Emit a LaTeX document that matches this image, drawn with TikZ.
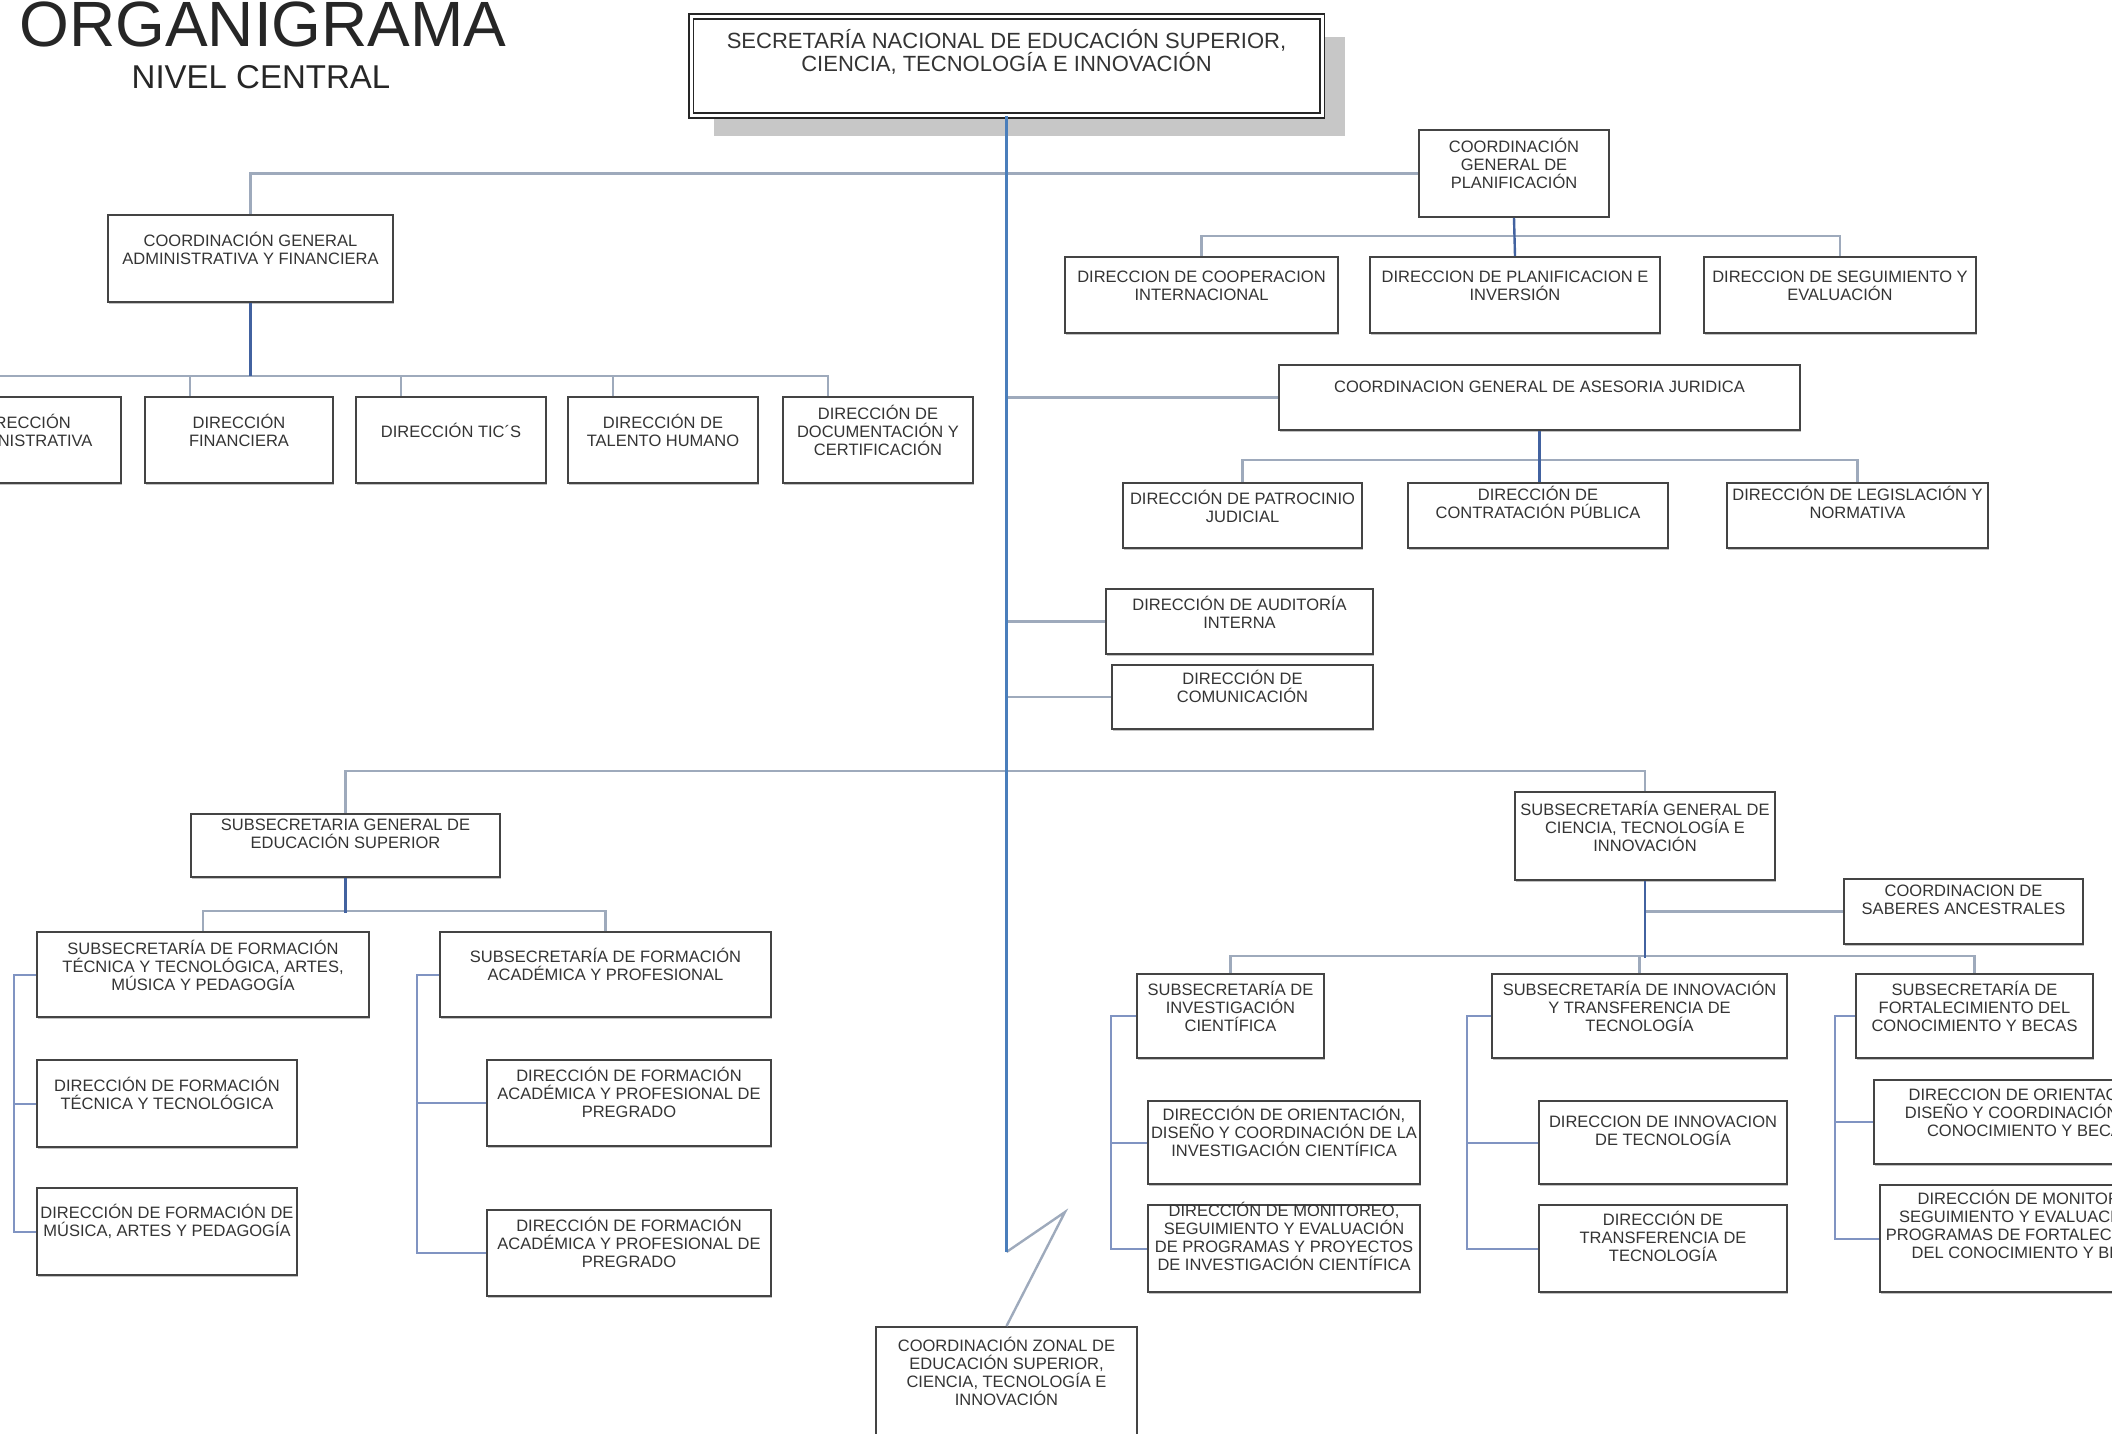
\documentclass[tikz,border=0pt]{standalone}
\usepackage{fontspec}
\setmainfont{Liberation Sans}
\usetikzlibrary{shadows}

\definecolor{azultronco}{RGB}{74,126,187}
\definecolor{azulbajada}{RGB}{66,98,160}
\definecolor{grisrama}{RGB}{158,170,188}
\definecolor{azulriel}{RGB}{128,148,194}
\definecolor{bordecaja}{RGB}{68,68,68}
\definecolor{textocaja}{RGB}{52,52,52}

\newcommand\letracaja{\fontsize{16.5}{18}\selectfont}
\newcommand\letragrande{\fontsize{22}{23}\selectfont}

\begin{document}
\begin{tikzpicture}[x=1pt,y=-1pt,
  caja/.style={draw=bordecaja, line width=2pt, fill=white, inner sep=0pt,
    drop shadow={shadow xshift=1pt, shadow yshift=-1.5pt, fill=black!40, opacity=.6}},
  rotulo/.style={font=\letracaja, align=center, text=textocaja, inner sep=0pt},
  troncal/.style={draw=azultronco, line width=3pt},
  bajada/.style={draw=azulbajada, line width=2.4pt},
  rama/.style={draw=grisrama, line width=2.4pt},
  riel/.style={draw=azulriel, line width=2pt}]
%%%%%%%%%%%%%%%%%%%%%%%%%%%%%%%%%%%%%%%%%%% HELP LINES
%\draw[help lines] (0,0) grid[step=100] (2112,1434);
\useasboundingbox (0,0) rectangle (2112,1434);
\clip (0,0) rectangle (2112,1434);

%%%%%%%%%%%%%%%%%%%%%%%%%%%%%%%%%%%%%%%%%%% title
\node[font=\fontsize{64}{70}\selectfont, text=black!85, anchor=base, inner sep=0pt] (titulo) at (263,47) {ORGANIGRAMA};
\node[font=\fontsize{33}{36}\selectfont, text=black!85, anchor=base, inner sep=0pt] (nivel) at (261,89) {NIVEL CENTRAL};

%%%%%%%%%%%%%%%%%%%%%%%%%%%%%%%%%%%%%%%%%%% secretaria
\node[draw=black!85, line width=1.8pt, double=white, double distance=3pt, fill=white, inner sep=0pt,
  general shadow={fill=black!22, shadow xshift=23pt, shadow yshift=-21pt},
  minimum width=631pt, minimum height=99pt] (sec) at (1006.5,66) {};
\node[rotulo, font=\letragrande] (sec-t) at (1006.5,51.5) {SECRETARÍA NACIONAL DE EDUCACIÓN SUPERIOR,\\CIENCIA, TECNOLOGÍA E INNOVACIÓN};

%%%%% coordinacion administrativa
\node[caja, minimum width=285pt, minimum height=87pt] (cga) at (250.5,258.5) {};
\node[rotulo] (cga-t) at (250.5,248.5) {COORDINACIÓN GENERAL\\ADMINISTRATIVA Y FINANCIERA};

\node[caja, minimum width=193pt, minimum height=86pt] (dadm) at (24.5,440) {};
\node[rotulo] (dadm-t) at (24.5,430) {DIRECCIÓN\\ADMINISTRATIVA};
\node[caja, minimum width=188pt, minimum height=86pt] (dfin) at (239,440) {};
\node[rotulo] (dfin-t) at (239,430) {DIRECCIÓN\\FINANCIERA};
\node[caja, minimum width=190pt, minimum height=86pt] (dtic) at (451,440) {};
\node[rotulo] (dtic-t) at (451,430) {DIRECCIÓN TIC´S};
\node[caja, minimum width=190pt, minimum height=86pt] (dtal) at (663,440) {};
\node[rotulo] (dtal-t) at (663,430) {DIRECCIÓN DE\\TALENTO HUMANO};
\node[caja, minimum width=190pt, minimum height=86pt] (ddoc) at (878,440) {};
\node[rotulo] (ddoc-t) at (878,430) {DIRECCIÓN DE\\DOCUMENTACIÓN Y\\CERTIFICACIÓN};

%%%%% planificacion
\node[caja, minimum width=190pt, minimum height=87pt] (cgp) at (1514,173.5) {};
\node[rotulo] (cgp-t) at (1514,163) {COORDINACIÓN\\GENERAL DE\\PLANIFICACIÓN};
\node[caja, minimum width=273pt, minimum height=76pt] (dcoop) at (1201.5,295) {};
\node[rotulo] (dcoop-t) at (1201.5,286) {DIRECCION DE COOPERACION\\INTERNACIONAL};
\node[caja, minimum width=290pt, minimum height=76pt] (dplan) at (1515,295) {};
\node[rotulo] (dplan-t) at (1515,286) {DIRECCION DE PLANIFICACION E\\INVERSIÓN};
\node[caja, minimum width=272pt, minimum height=76pt] (dseg) at (1840,295) {};
\node[rotulo] (dseg-t) at (1840,286) {DIRECCION DE SEGUIMIENTO Y\\EVALUACIÓN};

%%%%% asesoria juridica
\node[caja, minimum width=521pt, minimum height=65pt] (cgaj) at (1539.5,397.5) {};
\node[rotulo] (cgaj-t) at (1539.5,387) {COORDINACION GENERAL DE ASESORIA JURIDICA};
\node[caja, minimum width=239pt, minimum height=65pt] (dpat) at (1242.5,515.5) {};
\node[rotulo] (dpat-t) at (1242.5,506) {DIRECCIÓN DE PATROCINIO\\JUDICIAL};
\node[caja, minimum width=260pt, minimum height=65pt] (dcont) at (1538,515.5) {};
\node[rotulo] (dcont-t) at (1538,502) {DIRECCIÓN DE\\CONTRATACIÓN PÚBLICA};
\node[caja, minimum width=261pt, minimum height=65pt] (dleg) at (1857.5,515.5) {};
\node[rotulo] (dleg-t) at (1857.5,502) {DIRECCIÓN DE LEGISLACIÓN Y\\NORMATIVA};

%%%%% auditoria y comunicacion
\node[caja, minimum width=267pt, minimum height=65pt] (daud) at (1239.5,621.5) {};
\node[rotulo] (daud-t) at (1239.5,612) {DIRECCIÓN DE AUDITORÍA\\INTERNA};
\node[caja, minimum width=261pt, minimum height=64pt] (dcom) at (1242.5,697) {};
\node[rotulo] (dcom-t) at (1242.5,686) {DIRECCIÓN DE\\COMUNICACIÓN};

%%%%% educacion superior
\node[caja, minimum width=309pt, minimum height=63pt] (sges) at (345.5,845.5) {};
\node[rotulo] (sges-t) at (345.5,834) {SUBSECRETARIA GENERAL DE\\EDUCACIÓN SUPERIOR};
\node[caja, minimum width=332pt, minimum height=85pt] (sftec) at (203,974.5) {};
\node[rotulo] (sftec-t) at (203,965) {SUBSECRETARÍA DE FORMACIÓN\\TÉCNICA Y TECNOLÓGICA, ARTES,\\MÚSICA Y PEDAGOGÍA};
\node[caja, minimum width=331pt, minimum height=85pt] (sfaca) at (605.5,974.5) {};
\node[rotulo] (sfaca-t) at (605.5,964) {SUBSECRETARÍA DE FORMACIÓN\\ACADÉMICA Y PROFESIONAL};
\node[caja, minimum width=260pt, minimum height=87pt] (dftec) at (167,1103.5) {};
\node[rotulo] (dftec-t) at (167,1093) {DIRECCIÓN DE FORMACIÓN\\TÉCNICA Y TECNOLÓGICA};
\node[caja, minimum width=260pt, minimum height=87pt] (dmus) at (167,1231.5) {};
\node[rotulo] (dmus-t) at (167,1221) {DIRECCIÓN DE FORMACIÓN DE\\MÚSICA, ARTES Y PEDAGOGÍA};
\node[caja, minimum width=284pt, minimum height=86pt] (daca1) at (629,1103) {};
\node[rotulo] (daca1-t) at (629,1092) {DIRECCIÓN DE FORMACIÓN\\ACADÉMICA Y PROFESIONAL DE\\PREGRADO};
\node[caja, minimum width=284pt, minimum height=86pt] (daca2) at (629,1253) {};
\node[rotulo] (daca2-t) at (629,1242) {DIRECCIÓN DE FORMACIÓN\\ACADÉMICA Y PROFESIONAL DE\\PREGRADO};

%%%%% ciencia y tecnologia
\node[caja, minimum width=260pt, minimum height=88pt] (sgcti) at (1645,836) {};
\node[rotulo] (sgcti-t) at (1645,826) {SUBSECRETARÍA GENERAL DE\\CIENCIA, TECNOLOGÍA E\\INNOVACIÓN};
\node[caja, minimum width=239pt, minimum height=65pt] (sab) at (1963.5,911.5) {};
\node[rotulo] (sab-t) at (1963.5,900) {COORDINACION DE\\SABERES ANCESTRALES};
\node[caja, minimum width=187pt, minimum height=84pt] (sinv) at (1230.5,1016) {};
\node[rotulo] (sinv-t) at (1230.5,1006) {SUBSECRETARÍA DE\\INVESTIGACIÓN\\CIENTÍFICA};
\node[caja, minimum width=295pt, minimum height=84pt] (sinn) at (1639.5,1016) {};
\node[rotulo] (sinn-t) at (1639.5,1006) {SUBSECRETARÍA DE INNOVACIÓN\\Y TRANSFERENCIA DE\\TECNOLOGÍA};
\node[caja, minimum width=237pt, minimum height=84pt] (sfor) at (1974.5,1016) {};
\node[rotulo] (sfor-t) at (1974.5,1006) {SUBSECRETARÍA DE\\FORTALECIMIENTO DEL\\CONOCIMIENTO Y BECAS};
\node[caja, minimum width=272pt, minimum height=83pt] (dori1) at (1284,1142.5) {};
\node[rotulo] (dori1-t) at (1284,1131) {DIRECCIÓN DE ORIENTACIÓN,\\DISEÑO Y COORDINACIÓN DE LA\\INVESTIGACIÓN CIENTÍFICA};
\node[caja, minimum width=272pt, minimum height=87pt] (dmon1) at (1284,1248.5) {};
\node[rotulo] (dmon1-t) at (1284,1236) {DIRECCIÓN DE MONITOREO,\\SEGUIMIENTO Y EVALUACIÓN\\DE PROGRAMAS Y PROYECTOS\\DE INVESTIGACIÓN CIENTÍFICA};
\node[caja, minimum width=248pt, minimum height=83pt] (dinn) at (1663,1142.5) {};
\node[rotulo] (dinn-t) at (1663,1131) {DIRECCION DE INNOVACION\\DE TECNOLOGÍA};
\node[caja, minimum width=248pt, minimum height=87pt] (dtra) at (1663,1248.5) {};
\node[rotulo] (dtra-t) at (1663,1236) {DIRECCIÓN DE\\TRANSFERENCIA DE\\TECNOLOGÍA};
\node[caja, minimum width=312pt, minimum height=84pt] (dori2) at (2030,1122) {};
\node[rotulo] (dori2-t) at (2030,1111) {DIRECCION DE ORIENTACIÓN,\\DISEÑO Y COORDINACIÓN DEL\\CONOCIMIENTO Y BECAS};
\node[caja, minimum width=306pt, minimum height=107pt] (dmon2) at (2033,1238.5) {};
\node[rotulo] (dmon2-t) at (2033,1224) {DIRECCIÓN DE MONITOREO,\\SEGUIMIENTO Y EVALUACIÓN DE\\PROGRAMAS DE FORTALECIMIENTO\\DEL CONOCIMIENTO Y BECAS};

%%%%% zonal
\node[caja, minimum width=261pt, minimum height=113pt] (zonal) at (1006.5,1383.5) {};
\node[rotulo] (zonal-t) at (1006.5,1371) {COORDINACIÓN ZONAL DE\\EDUCACIÓN SUPERIOR,\\CIENCIA, TECNOLOGÍA E\\INNOVACIÓN};

%%%%%%%%%%%%%%%%%%%%%%%%%%%%%%%%%%%%%%%%%%% connectors
\coordinate (quiebre1) at (1006.5,1252);
\coordinate (quiebre2) at (1065,1212);
\coordinate (bus-cga) at (-10,376);

\draw[rama] (cga.north) |- (cgp.west);
\draw[rama] (sec.south |- cgaj.west) -- (cgaj.west);
\draw[rama] (sec.south |- daud.west) -- (daud.west);
\draw[rama] (sec.south |- dcom.west) -- (dcom.west);
\draw[rama] (sges.north) -- ++(0,-42) -| (sgcti.north);
\draw[rama] (quiebre1) -- (quiebre2) -- (zonal.north);
\draw[troncal] (sec.south) -- (quiebre1);

%%%%% administrativa
\draw[rama] (bus-cga) -| ([xshift=46pt]ddoc.north west);
\foreach \n in {dfin,dtic,dtal}
  \draw[rama] ([xshift=46pt]\n.north west) -- ++(0,-21);
\draw[bajada] (cga.south) -- (cga.south |- bus-cga);

%%%%% planificacion y juridica
\draw[rama] (dcoop.north) -- ++(0,-20) -| (dseg.north);
\draw[bajada] (cgp.south) -- (dplan.north);
\draw[rama] (dpat.north) -- ++(0,-22) -| (dleg.north);
\draw[bajada] (cgaj.south) -- (cgaj.south |- dcont.north);

%%%%% educacion superior
\draw[rama] (sftec.north) -- ++(0,-20) -| (sfaca.north);
\draw[bajada] (sges.south) -- ++(0,35);
\coordinate (riel-sftec) at ([xshift=-22pt]sftec.west);
\coordinate (riel-sfaca) at ([xshift=-22pt]sfaca.west);
\draw[riel] (sftec.west) -- (riel-sftec) |- (dmus.west);
\draw[riel] (riel-sftec |- dftec.west) -- (dftec.west);
\draw[riel] (sfaca.west) -- (riel-sfaca) |- (daca2.west);
\draw[riel] (riel-sfaca |- daca1.west) -- (daca1.west);

%%%%% ciencia y tecnologia
\draw[rama] (sgcti.south |- sab.west) -- (sab.west);
\draw[rama] (sinv.north) -- ++(0,-17) -| (sfor.north);
\draw[rama] (sinn.north) -- ++(0,-17);
\draw[bajada] (sgcti.south) -- ++(0,77);
\coordinate (riel-sinv) at ([xshift=-25pt]sinv.west);
\coordinate (riel-sinn) at ([xshift=-24pt]sinn.west);
\coordinate (riel-sfor) at ([xshift=-20pt]sfor.west);
\draw[riel] (sinv.west) -- (riel-sinv) |- (dmon1.west);
\draw[riel] (riel-sinv |- dori1.west) -- (dori1.west);
\draw[riel] (sinn.west) -- (riel-sinn) |- (dtra.west);
\draw[riel] (riel-sinn |- dinn.west) -- (dinn.west);
\draw[riel] (sfor.west) -- (riel-sfor) |- (dmon2.west);
\draw[riel] (riel-sfor |- dori2.west) -- (dori2.west);
\end{tikzpicture}
\end{document}
